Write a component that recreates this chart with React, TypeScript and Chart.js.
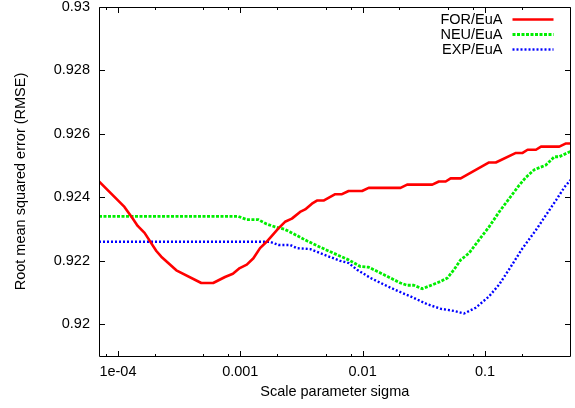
import { useEffect, useRef } from "react";
import { Chart, registerables } from "chart.js";

Chart.register(...registerables);

// ---- data ----
const seriesLabels = ["FOR/EuA", "NEU/EuA", "EXP/EuA"];
const seriesColors = ["#ff0000", "#00ee00", "#0000ff"];

const forSigma = [7e-5, 1.13e-4, 1.32e-4, 1.45e-4, 1.65e-4, 2.06e-4, 2.26e-4, 3.0e-4, 4.8e-4, 6.0e-4, 7.5e-4, 8.7e-4, 9.9e-4, 1.13e-3, 1.28e-3, 1.45e-3, 1.64e-3, 2.05e-3, 2.32e-3, 2.64e-3, 3.08e-3, 3.39e-3, 3.85e-3, 4.23e-3, 4.79e-3, 5.97e-3, 6.78e-3, 7.68e-3, 9.89e-3, 1.12e-2, 2.04e-2, 2.31e-2, 3.71e-2, 4.2e-2, 4.77e-2, 5.24e-2, 6.33e-2, 0.108, 0.1226, 0.179, 0.203, 0.223, 0.261, 0.287, 0.405, 0.46, 0.5];
const forRmse = [0.9245, 0.9237, 0.92333, 0.9231, 0.92288, 0.92231, 0.92213, 0.9217, 0.9213, 0.9213, 0.92149, 0.92159, 0.92177, 0.92188, 0.92208, 0.9224, 0.9226, 0.92302, 0.92323, 0.92333, 0.92354, 0.92362, 0.9238, 0.9239, 0.9239, 0.9241, 0.9241, 0.9242, 0.9242, 0.9243, 0.9243, 0.9244, 0.9244, 0.9245, 0.9245, 0.9246, 0.9246, 0.9251, 0.9251, 0.9254, 0.9254, 0.9255, 0.9255, 0.9256, 0.9256, 0.9257, 0.9257];

const neuSigma = [7e-5, 9.6e-4, 1.13e-3, 1.40e-3, 1.64e-3, 1.92e-3, 2.32e-3, 2.64e-3, 3.5e-3, 4.5e-3, 5.78e-3, 7.68e-3, 9.57e-3, 1.12e-2, 1.31e-2, 2.04e-2, 2.31e-2, 2.62e-2, 3.07e-2, 3.48e-2, 4.34e-2, 4.93e-2, 5.58e-2, 6.33e-2, 7.4e-2, 8.94e-2, 0.108, 0.1305, 0.1576, 0.19, 0.216, 0.253, 0.315, 0.369, 0.405, 0.5];
const neuRmse = [0.9234, 0.9234, 0.9233, 0.9233, 0.92316, 0.92307, 0.92299, 0.92288, 0.92263, 0.92243, 0.92224, 0.92203, 0.92182, 0.9218, 0.92167, 0.9213, 0.92123, 0.92123, 0.92112, 0.9212, 0.92135, 0.92146, 0.92172, 0.92203, 0.92224, 0.92266, 0.92307, 0.92354, 0.92396, 0.92438, 0.92463, 0.92487, 0.92502, 0.92528, 0.92528, 0.92545];

const expSigma = [7e-5, 1.75e-3, 2.05e-3, 2.55e-3, 2.9e-3, 3.72e-3, 4.5e-3, 5.43e-3, 6.56e-3, 7.68e-3, 9.0e-3, 1.16e-2, 1.59e-2, 2.1e-2, 2.46e-2, 3.38e-2, 4.34e-2, 5.58e-2, 6.74e-2, 8.4e-2, 0.108, 0.1305, 0.163, 0.203, 0.261, 0.315, 0.381, 0.446, 0.5];
const expRmse = [0.9226, 0.9226, 0.9225, 0.9225, 0.9224, 0.92237, 0.92224, 0.92212, 0.922, 0.92193, 0.92172, 0.92146, 0.9212, 0.92099, 0.92088, 0.92063, 0.92049, 0.92042, 0.92034, 0.92052, 0.92088, 0.92125, 0.92182, 0.9224, 0.92297, 0.92344, 0.92391, 0.92432, 0.92455];

const xMajorTicks = [1e-4, 1e-3, 1e-2, 1e-1];
const xTickLabels = ["1e-04", "0.001", "0.01", "0.1"];
const xMinorTicks = [8e-5, 2e-4, 5e-4, 8e-4, 2e-3, 5e-3, 8e-3, 2e-2, 5e-2, 8e-2, 0.2];
const yTicks = [0.92, 0.922, 0.924, 0.926, 0.928, 0.93];
const xRange = [7e-5, 0.5];
const yRange = [0.919, 0.93];

const xTitle = "Scale parameter sigma";
const yTitle = "Root mean squared error (RMSE)";

const FONT_FAMILY = '"Liberation Sans", Arial, Helvetica, sans-serif';
const FONT_SIZE = 14.5;

const toPoints = (xs: number[], ys: number[]) => xs.map((x, i) => ({ x, y: ys[i] }));

const framePlugin = {
  id: "gnuplotFrame",
  afterDatasetsDraw(chart: any) {
    const { ctx, chartArea, scales } = chart;
    const { left, right, top, bottom } = chartArea;
    const x = scales.x;
    const y = scales.y;
    const L = Math.floor(left) + 0.5;
    const R = Math.floor(right) + 0.5;
    const T = Math.floor(top) + 0.5;
    const B = Math.floor(bottom) + 0.5;
    ctx.save();
    ctx.strokeStyle = "#000";
    ctx.lineWidth = 1;
    ctx.setLineDash([]);
    ctx.beginPath();
    ctx.rect(L, T, R - L, B - T);
    const major = 5.5;
    const minor = 2.5;
    yTicks.forEach((v) => {
      const py = Math.round(y.getPixelForValue(v)) + 0.5;
      ctx.moveTo(L, py);
      ctx.lineTo(L + major, py);
      ctx.moveTo(R, py);
      ctx.lineTo(R - major, py);
    });
    xMajorTicks.forEach((v) => {
      const px = Math.round(x.getPixelForValue(v)) + 0.5;
      ctx.moveTo(px, B);
      ctx.lineTo(px, B - major);
      ctx.moveTo(px, T);
      ctx.lineTo(px, T + major);
    });
    xMinorTicks.forEach((v) => {
      const px = Math.round(x.getPixelForValue(v)) + 0.5;
      ctx.moveTo(px, B);
      ctx.lineTo(px, B - minor);
      ctx.moveTo(px, T);
      ctx.lineTo(px, T + minor);
    });
    ctx.stroke();

    // legend (gnuplot style: text right-aligned, sample to the right)
    ctx.font = `${FONT_SIZE}px ${FONT_FAMILY}`;
    ctx.textAlign = "right";
    ctx.textBaseline = "middle";
    chart.data.datasets.forEach((ds: any, i: number) => {
      const ly = T + 12 + i * 15;
      ctx.fillStyle = "#000";
      ctx.fillText(ds.label, R - 68, ly);
      ctx.strokeStyle = ds.borderColor;
      ctx.lineWidth = ds.borderWidth;
      ctx.setLineDash(ds.borderDash || []);
      ctx.beginPath();
      ctx.moveTo(R - 58, ly);
      ctx.lineTo(R - 17, ly);
      ctx.stroke();
    });
    ctx.restore();
  },
};

export default function App() {
  const ref = useRef<HTMLCanvasElement>(null);
  useEffect(() => {
    document.body.style.margin = "0";
    document.body.style.overflow = "hidden";
    const font = { family: FONT_FAMILY, size: FONT_SIZE };
    const chart = new Chart(ref.current!, {
      type: "line",
      data: {
        datasets: [
          {
            label: seriesLabels[0],
            data: toPoints(forSigma, forRmse),
            borderColor: seriesColors[0],
            borderWidth: 2.6,
            borderDash: [],
          },
          {
            label: seriesLabels[1],
            data: toPoints(neuSigma, neuRmse),
            borderColor: seriesColors[1],
            borderWidth: 2.8,
            borderDash: [3, 1.5],
          },
          {
            label: seriesLabels[2],
            data: toPoints(expSigma, expRmse),
            borderColor: seriesColors[2],
            borderWidth: 2.4,
            borderDash: [2, 2],
          },
        ],
      },
      options: {
        responsive: false,
        devicePixelRatio: 1,
        animation: false,
        events: [],
        layout: { padding: { top: 7, right: 4.5, left: 0, bottom: 0 } },
        elements: {
          point: { radius: 0 },
          line: { tension: 0, fill: false, borderCapStyle: "butt", borderJoinStyle: "round" },
        },
        plugins: { legend: { display: false }, tooltip: { enabled: false } },
        scales: {
          x: {
            type: "logarithmic",
            min: xRange[0],
            max: xRange[1],
            grid: { display: false, drawTicks: false },
            border: { display: false },
            ticks: {
              font,
              color: "#000",
              padding: 7.3,
              autoSkip: false,
              maxRotation: 0,
              callback: (value: any) => {
                const i = xMajorTicks.findIndex((t) => Math.abs(t - Number(value)) / t < 1e-6);
                return i >= 0 ? xTickLabels[i] : "";
              },
            },
            afterBuildTicks: (s: any) => {
              s.ticks = xMajorTicks.map((v) => ({ value: v }));
            },
            afterFit: (s: any) => {
              s.height = 52;
              s.paddingLeft = 0;
              s.paddingRight = 0;
            },
            title: { display: true, text: xTitle, font, color: "#000", padding: { top: 0, bottom: 7.3 } },
          },
          y: {
            type: "linear",
            min: yRange[0],
            max: yRange[1],
            grid: { display: false, drawTicks: false },
            border: { display: false },
            ticks: {
              font,
              color: "#000",
              padding: 9,
              callback: (value: any) => String(Number(Number(value).toFixed(3))),
            },
            afterBuildTicks: (s: any) => {
              s.ticks = yTicks.map((v) => ({ value: v }));
            },
            afterFit: (s: any) => {
              s.width = 99;
              s.paddingTop = 0;
              s.paddingBottom = 0;
            },
            title: { display: true, text: yTitle, font, color: "#000", padding: { top: 12.3, bottom: 0 } },
          },
        },
      },
      plugins: [framePlugin],
    } as any);
    return () => chart.destroy();
  }, []);
  return (
    <canvas
      ref={ref}
      width={575}
      height={408}
      style={{ display: "block", width: 575, height: 408 }}
    />
  );
}
